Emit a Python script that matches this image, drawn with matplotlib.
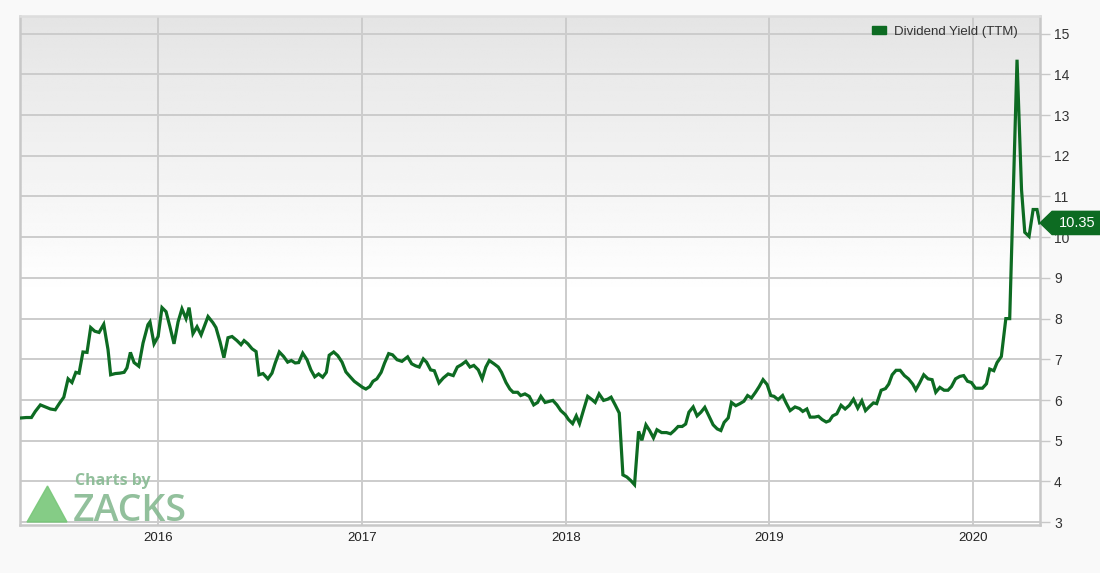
import numpy as np
import matplotlib.pyplot as plt
from matplotlib.patches import Polygon, Patch
import matplotlib.transforms as mtransforms

# weekly dividend yield (TTM), time as decimal year
years = [
    2015.328, 2015.352, 2015.377, 2015.396, 2015.421, 2015.445, 2015.470, 2015.494, 2015.516, 2015.536,
    2015.557, 2015.576, 2015.595, 2015.611, 2015.630, 2015.650, 2015.668, 2015.688, 2015.709, 2015.732,
    2015.753, 2015.766, 2015.789, 2015.811, 2015.832, 2015.846, 2015.863, 2015.881, 2015.904, 2015.925,
    2015.949, 2015.959, 2015.979, 2015.999, 2016.018, 2016.038, 2016.057, 2016.077, 2016.097, 2016.116,
    2016.136, 2016.151, 2016.170, 2016.190, 2016.210, 2016.244, 2016.268, 2016.283, 2016.303, 2016.322,
    2016.342, 2016.362, 2016.386, 2016.406, 2016.421, 2016.440, 2016.460, 2016.480, 2016.494, 2016.514,
    2016.538, 2016.558, 2016.574, 2016.594, 2016.615, 2016.635, 2016.653, 2016.672, 2016.689, 2016.709,
    2016.730, 2016.749, 2016.768, 2016.787, 2016.807, 2016.825, 2016.839, 2016.861, 2016.881, 2016.902,
    2016.921, 2016.942, 2016.962, 2016.984, 2017.003, 2017.019, 2017.038, 2017.054, 2017.073, 2017.094,
    2017.111, 2017.131, 2017.150, 2017.172, 2017.196, 2017.224, 2017.244, 2017.263, 2017.281, 2017.301,
    2017.317, 2017.337, 2017.355, 2017.378, 2017.399, 2017.423, 2017.448, 2017.468, 2017.489, 2017.510,
    2017.530, 2017.549, 2017.571, 2017.590, 2017.608, 2017.625, 2017.648, 2017.669, 2017.685, 2017.707,
    2017.726, 2017.742, 2017.764, 2017.779, 2017.800, 2017.821, 2017.843, 2017.862, 2017.878, 2017.899,
    2017.921, 2017.937, 2017.957, 2017.976, 2017.998, 2018.014, 2018.034, 2018.052, 2018.068, 2018.088,
    2018.108, 2018.129, 2018.145, 2018.164, 2018.186, 2018.206, 2018.223, 2018.243, 2018.263, 2018.281,
    2018.300, 2018.320, 2018.338, 2018.358, 2018.374, 2018.394, 2018.412, 2018.431, 2018.448, 2018.471,
    2018.495, 2018.515, 2018.533, 2018.552, 2018.572, 2018.589, 2018.605, 2018.626, 2018.645, 2018.664,
    2018.683, 2018.703, 2018.724, 2018.744, 2018.762, 2018.778, 2018.798, 2018.814, 2018.835, 2018.855,
    2018.875, 2018.893, 2018.912, 2018.932, 2018.950, 2018.969, 2018.989, 2019.007, 2019.023, 2019.043,
    2019.065, 2019.082, 2019.102, 2019.126, 2019.148, 2019.164, 2019.184, 2019.200, 2019.222, 2019.241,
    2019.259, 2019.279, 2019.295, 2019.311, 2019.331, 2019.352, 2019.372, 2019.393, 2019.413, 2019.434,
    2019.454, 2019.472, 2019.492, 2019.511, 2019.527, 2019.549, 2019.570, 2019.586, 2019.603, 2019.622,
    2019.642, 2019.663, 2019.683, 2019.704, 2019.719, 2019.738, 2019.758, 2019.779, 2019.799, 2019.817,
    2019.837, 2019.858, 2019.877, 2019.894, 2019.914, 2019.935, 2019.954, 2019.973, 2019.992, 2020.012,
    2020.030, 2020.046, 2020.066, 2020.082, 2020.102, 2020.118, 2020.139, 2020.161, 2020.180, 2020.216,
    2020.238, 2020.254, 2020.275, 2020.295, 2020.314, 2020.327,
]
yield_ttm = [
    5.56, 5.57, 5.57, 5.72, 5.88, 5.83, 5.78, 5.76, 5.93, 6.07,
    6.52, 6.43, 6.68, 6.66, 7.18, 7.17, 7.78, 7.69, 7.66, 7.86,
    7.24, 6.62, 6.65, 6.66, 6.68, 6.79, 7.17, 6.92, 6.83, 7.40,
    7.85, 7.92, 7.38, 7.56, 8.27, 8.17, 7.80, 7.38, 7.92, 8.24,
    8.00, 8.27, 7.63, 7.80, 7.60, 8.05, 7.90, 7.78, 7.43, 7.04,
    7.53, 7.56, 7.46, 7.36, 7.46, 7.38, 7.26, 7.19, 6.62, 6.65,
    6.52, 6.66, 6.91, 7.18, 7.07, 6.93, 6.97, 6.91, 6.92, 7.15,
    6.99, 6.74, 6.57, 6.64, 6.56, 6.68, 7.10, 7.18, 7.09, 6.93,
    6.69, 6.57, 6.46, 6.38, 6.31, 6.27, 6.33, 6.46, 6.52, 6.68,
    6.91, 7.14, 7.11, 6.99, 6.95, 7.06, 6.89, 6.84, 6.81, 7.01,
    6.93, 6.74, 6.72, 6.42, 6.54, 6.64, 6.60, 6.81, 6.87, 6.95,
    6.81, 6.85, 6.74, 6.52, 6.81, 6.97, 6.89, 6.81, 6.68, 6.43,
    6.27, 6.19, 6.19, 6.11, 6.15, 6.09, 5.88, 5.94, 6.09, 5.94,
    5.97, 5.99, 5.88, 5.74, 5.64, 5.52, 5.42, 5.61, 5.42, 5.76,
    6.09, 6.01, 5.94, 6.15, 5.99, 6.02, 6.07, 5.88, 5.68, 4.16,
    4.11, 4.02, 3.92, 5.23, 5.01, 5.39, 5.25, 5.07, 5.27, 5.20,
    5.20, 5.17, 5.25, 5.35, 5.35, 5.41, 5.70, 5.83, 5.61, 5.70,
    5.82, 5.61, 5.39, 5.29, 5.25, 5.45, 5.56, 5.94, 5.86, 5.91,
    5.97, 6.11, 6.05, 6.19, 6.33, 6.50, 6.38, 6.11, 6.09, 6.01,
    6.11, 5.93, 5.74, 5.83, 5.79, 5.72, 5.78, 5.58, 5.58, 5.60,
    5.52, 5.46, 5.49, 5.61, 5.66, 5.87, 5.78, 5.87, 6.02, 5.80,
    5.98, 5.74, 5.84, 5.93, 5.91, 6.24, 6.28, 6.39, 6.62, 6.73,
    6.73, 6.60, 6.52, 6.39, 6.25, 6.42, 6.62, 6.52, 6.50, 6.19,
    6.31, 6.24, 6.24, 6.33, 6.52, 6.58, 6.60, 6.46, 6.43, 6.29,
    6.29, 6.29, 6.40, 6.76, 6.72, 6.92, 7.07, 8.00, 8.00, 14.36,
    11.17, 10.12, 10.02, 10.68, 10.68, 10.35,
]
year_ticks = [2016, 2017, 2018, 2019, 2020]
value_ticks = list(range(3, 16))
series_name = 'Dividend Yield (TTM)'
last_value = yield_ttm[-1]

green = '#0d6b22'
grid_col = '#cccccc'

plt.rcParams['font.family'] = ['Liberation Sans', 'DejaVu Sans']

fig = plt.figure(figsize=(11, 5.73), dpi=100, facecolor='#f9f9f9')
ax = fig.add_axes([0.0182, 0.0838, 0.9273, 0.888])

x0, x1 = 2015.321, 2020.329
y0, y1 = 2.93, 15.43
ax.set_xlim(x0, x1)
ax.set_ylim(y0, y1)

# background gradient: grey at the top fading to white half way down
fade = np.clip(np.linspace(0, 1, 200) / 0.55, 0, 1)
shade = 0.895 + (1 - 0.895) * fade
img = np.repeat(shade[:, None], 4, axis=1)
ax.imshow(img, cmap='gray', vmin=0, vmax=1, extent=[x0, x1, y0, y1],
          aspect='auto', origin='upper', zorder=0, interpolation='bilinear')

ax.plot(years, yield_ttm, color=green, linewidth=2.3, zorder=3,
        solid_joinstyle='miter')

ax.set_xlim(x0, x1)
ax.set_ylim(y0, y1)
ax.set_xticks(year_ticks)
ax.set_xticklabels([str(y) for y in year_ticks])
ax.set_yticks(value_ticks)
ax.yaxis.tick_right()
ax.grid(True, color=grid_col, linewidth=1.4, zorder=1)
ax.tick_params(axis='x', length=0, labelsize=9.5, pad=5, labelcolor='#222222')
ax.tick_params(axis='y', length=7, width=1, color='#c8c8c8', labelsize=10,
               pad=3, labelcolor='#333333')
for side, sp in ax.spines.items():
    sp.set_color('#c8c8c8')
    sp.set_linewidth(1.8)
ax.spines['top'].set_color('#dddddd')

leg = ax.legend(handles=[Patch(color=green, label=series_name)], loc='upper right',
                frameon=False, fontsize=9.5, handlelength=1.1, handleheight=0.55,
                handletextpad=0.6, borderaxespad=0.35, bbox_to_anchor=(0.988, 1.0))
for txt in leg.get_texts():
    txt.set_color('#333333')

# last value tag on the right axis
blend = mtransforms.blended_transform_factory(ax.transAxes, ax.transData)
h = 0.285
tag = Polygon([(1.0, last_value), (1.0118, last_value + h), (1.06, last_value + h),
               (1.06, last_value - h), (1.0118, last_value - h)],
              closed=True, transform=blend, color=green, clip_on=False, zorder=5)
ax.add_patch(tag)
ax.text(1.036, last_value, f'{last_value:.2f}', transform=blend, color='white',
        fontsize=10.5, ha='center', va='center', zorder=6, clip_on=False)

# watermark
logo_col = '#86b991'
fig.text(75 / 1100, 1 - 485 / 573, 'Charts by', fontsize=11.5, fontweight='bold',
         color=logo_col, va='baseline', family=['Open Sans', 'DejaVu Sans'], alpha=0.9)
fig.text(73 / 1100, 1 - 521 / 573, 'ZACKS', fontsize=27, fontweight='semibold',
         color=logo_col, va='baseline', family=['Open Sans', 'DejaVu Sans'], alpha=0.9)
tri = Polygon([(27 / 1100, 1 - 522 / 573), (67 / 1100, 1 - 522 / 573),
               (47.5 / 1100, 1 - 486 / 573)], closed=True, transform=fig.transFigure,
              color='#78c779', alpha=0.9, zorder=4)
fig.patches.append(tri)

fig.savefig('out.png', dpi=100, facecolor=fig.get_facecolor())
